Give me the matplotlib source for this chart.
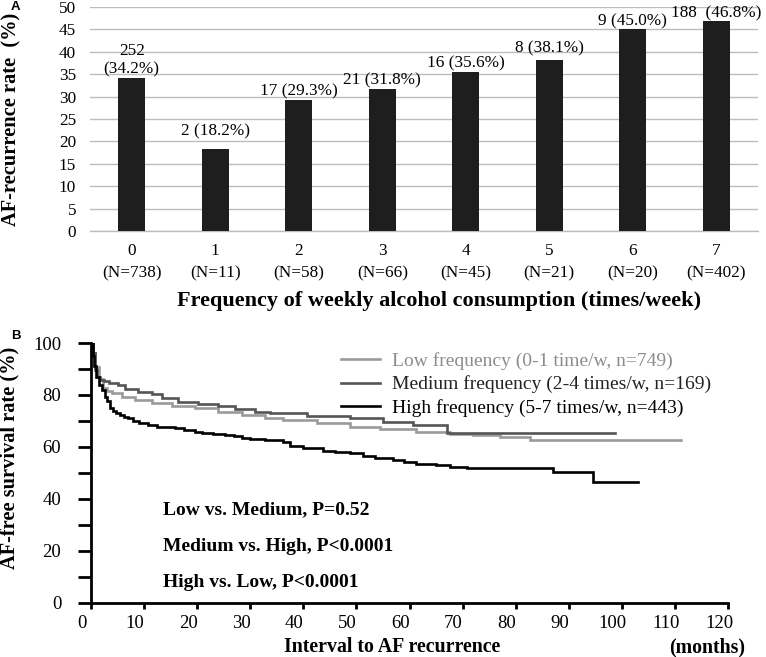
import matplotlib
matplotlib.use("Agg")
import matplotlib.pyplot as plt
from matplotlib.ticker import MultipleLocator
from matplotlib.transforms import ScaledTranslation

# ---------------- data ----------------
freq_cats = ["0", "1", "2", "3", "4", "5", "6", "7"]
freq_n = [738, 11, 58, 66, 45, 21, 20, 402]
recur_count = [252, 2, 17, 21, 16, 8, 9, 188]
recur_rate = [34.2, 18.2, 29.3, 31.8, 35.6, 38.1, 45.0, 46.8]

low_t = [0, 0.3, 0.75, 1.5, 2.3, 3.1, 3.9, 5.8, 8.3, 11.4, 15.2, 19.6, 23.9,
         28.4, 32.8, 36.2, 42.5, 48.8, 54.4, 61.3, 67.6, 72.0, 77.0, 82.7, 111.2]
low_s = [100, 96, 90.9, 86, 82.5, 81.5, 80.6, 79.3, 78, 77, 75.7, 74.8, 73.5,
         72.3, 71, 70.3, 69.1, 67.8, 66.8, 65.8, 65, 64.5, 63.9, 62.6, 62.6]

med_t = [0, 0.3, 0.75, 1.2, 1.7, 2.5, 3.3, 5.1, 6.4, 8.9, 11.4, 13.3, 16.4,
         20.2, 23.9, 27.1, 30.9, 33.7, 40.6, 48.8, 55.0, 60.7, 67.0, 98.7]
med_s = [100, 96, 89.6, 87, 85.8, 85.2, 84.7, 83.8, 82.2, 81.3, 80.4, 78.7, 77.4,
         76.5, 75.7, 74.5, 73.5, 72.9, 71.9, 71, 69.7, 68.4, 65.5, 65.5]

high_t = [0, 0.3, 0.6, 1.0, 1.5, 2.0, 2.6, 3.0, 3.6, 4.2, 4.8, 5.5, 6.2, 7.0,
          8.0, 9.0, 10.8, 12.5, 14.0, 15.8, 17.5, 19.6, 21.0, 23.0, 25.2, 27.0,
          28.4, 30.0, 32.8, 36.2, 37.5, 40.0, 43.7, 46.0, 48.8, 51.3, 53.5, 56.9,
          59.0, 61.3, 65.0, 67.6, 70.8, 87.1, 94.6, 103.1]
high_s = [100, 95, 91, 87, 84, 82, 79.3, 77.5, 75, 74, 73, 72.3, 71.6, 71,
          70, 69.2, 68.4, 67.8, 67.5, 67.2, 66.5, 65.8, 65.4, 65, 64.6, 64,
          63.3, 62.9, 62.6, 62, 60.5, 59.4, 58.4, 58, 57.5, 56.5, 55.8, 55,
          54.2, 53.4, 53, 52.4, 51.7, 50.4, 46.6, 46.6]

group_labels = ["Low frequency (0-1 time/w, n=749)",
                "Medium frequency (2-4 times/w, n=169)",
                "High frequency (5-7 times/w, n=443)"]
pvals = ["Low vs. Medium, P=0.52",
         "Medium vs. High, P<0.0001",
         "High vs. Low, P<0.0001"]

# ---------------- style ----------------
plt.rcParams['font.family'] = ['Liberation Serif', 'DejaVu Serif']

W, H = 766, 657
fig = plt.figure(figsize=(W / 100, H / 100), dpi=100)

# ---------------- Panel A ----------------
axA = fig.add_axes([90 / W, 1 - 231 / H, 668 / W, 224 / H])
x = list(range(len(freq_cats)))
axA.bar(x, recur_rate, width=0.32, color="#1e1e1e", zorder=3)
axA.set_xlim(-0.5, len(freq_cats) - 0.5)
axA.set_ylim(0, 50)
axA.yaxis.set_major_locator(MultipleLocator(5))
axA.grid(axis='y', color='#bdbdbd', linewidth=1.0, zorder=0)
for s in ['top', 'right', 'left']:
    axA.spines[s].set_visible(False)
axA.spines['bottom'].set_color('#bdbdbd')
axA.spines['bottom'].set_linewidth(1.0)
axA.tick_params(axis='both', length=0, labelsize=12.4)
axA.tick_params(axis='y', pad=10)
axA.tick_params(axis='x', pad=9)
axA.set_xticks(x)
axA.set_xticklabels([f"{c}\n(N={n})" for c, n in zip(freq_cats, freq_n)],
                    linespacing=1.45)
label_offsets = {1: 7, 5: 2.5}
for i, (c, r) in enumerate(zip(recur_count, recur_rate)):
    if i == 0:
        lab = f"{c}\n({r:.1f}%)"
    elif i == len(recur_count) - 1:
        lab = f"{c}  ({r:.1f}%)"
    else:
        lab = f"{c} ({r:.1f}%)"
    off = label_offsets.get(i, 0)
    axA.annotate(lab, (i, r), xytext=(0, off), textcoords='offset points',
                 ha='center', va='bottom', fontsize=12.4, annotation_clip=False,
                 linespacing=1.2)
axA.set_ylabel("AF-recurrence rate  (%)", fontsize=14.7, fontweight='bold')
axA.yaxis.set_label_coords(-0.103, 0.5)
axA.set_xlabel("Frequency of weekly alcohol consumption (times/week)",
               fontsize=16, fontweight='bold')
axA.xaxis.set_label_coords(0.5225, -0.27)
axA.xaxis.label.set_va('top')

# ---------------- Panel B ----------------
axB = fig.add_axes([91 / W, 1 - 602.7 / H, 637 / W, 259.7 / H])
colors = ['#9a9a9a', '#555555', '#000000']
for t, s, c, lab in zip([low_t, med_t, high_t], [low_s, med_s, high_s],
                        colors, group_labels):
    axB.step(t, s, where='post', color=c, linewidth=1.9, label=lab,
             solid_joinstyle='miter')
axB.set_xlim(0, 120)
axB.set_ylim(0, 100)
axB.xaxis.set_major_locator(MultipleLocator(10))
axB.yaxis.set_major_locator(MultipleLocator(20))
axB.yaxis.set_minor_locator(MultipleLocator(10))
for s in ['top', 'right']:
    axB.spines[s].set_visible(False)
for s in ['left', 'bottom']:
    axB.spines[s].set_linewidth(2.0)
axB.tick_params(axis='y', which='both', direction='out', length=9.5, width=2.0,
                labelsize=13.5, pad=12)
axB.tick_params(axis='x', which='both', direction='out', length=4.5, width=2.0,
                labelsize=13.5, pad=4)
shift = ScaledTranslation(-9 / 100, 0, fig.dpi_scale_trans)
for lbl in axB.get_xticklabels():
    lbl.set_transform(lbl.get_transform() + shift)
axB.set_ylabel("AF-free survival rate (%)", fontsize=14.7, fontweight='bold')
axB.yaxis.set_label_coords(-0.113, 0.557)
axB.text(0.4725, -0.171, "Interval to AF recurrence", transform=axB.transAxes,
         ha='center', va='center', fontsize=14.3, fontweight='bold')
axB.text(0.968, -0.171, "(months)", transform=axB.transAxes,
         ha='center', va='center', fontsize=14.3, fontweight='bold')
for txt, yy in zip(pvals, [0.357, 0.218, 0.079]):
    axB.text(0.113, yy, txt, transform=axB.transAxes, ha='left', va='center',
             fontsize=14, fontweight='bold')
leg = axB.legend(loc='upper left', bbox_to_anchor=(0.38, 0.995), frameon=False,
                 fontsize=14, handlelength=2.0, handletextpad=0.65,
                 labelspacing=0.28, borderaxespad=0)
for txt, c in zip(leg.get_texts(), ['#8c8c8c', '#222222', '#000000']):
    txt.set_color(c)

# panel letters
fig.text(15 / W, 1 - 7 / H, "A", family=['Liberation Sans', 'DejaVu Sans'],
         fontweight='bold', fontsize=9.5, ha='center', va='center')
fig.text(16 / W, 1 - 336 / H, "B", family=['Liberation Sans', 'DejaVu Sans'],
         fontweight='bold', fontsize=9.5, ha='center', va='center')

fig.savefig("out.png", dpi=100)
